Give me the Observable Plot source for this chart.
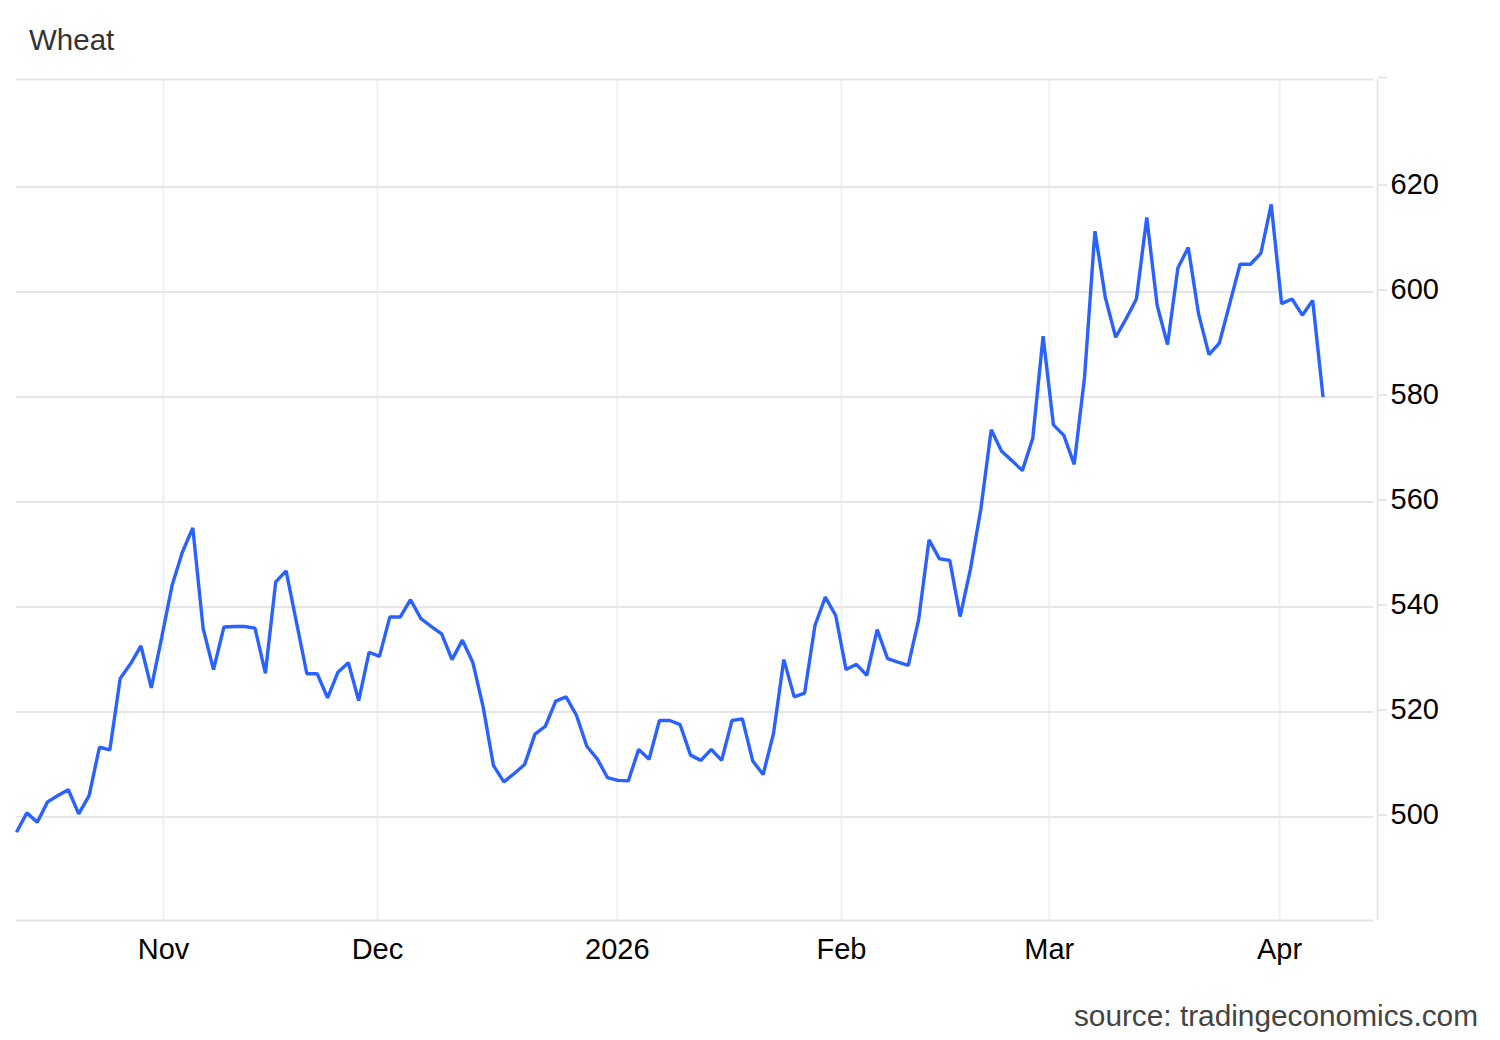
<!DOCTYPE html>
<html>
<head>
<meta charset="utf-8">
<script src="https://cdn.jsdelivr.net/npm/d3@7"></script>
<script src="https://cdn.jsdelivr.net/npm/@observablehq/plot@0.6"></script>
<style>
  html, body { margin: 0; padding: 0; background: #fff; }
  body { width: 1500px; font-family: "Liberation Sans", Arial, sans-serif; }
  #title { height: 70px; box-sizing: border-box; padding: 10px 0 0 29px; font-size: 29.5px; line-height: 60px; color: #333; }
  #chart svg { display: block; }
  #source { box-sizing: border-box; padding: 26px 22px 0 0; font-size: 29.8px; line-height: 40px; color: #444; text-align: right; }
</style>
</head>
<body>
<div id="title">Wheat</div>
<div id="chart"></div>
<div id="source">source: tradingeconomics.com</div>
<script>
// Daily wheat price (USd/Bu), equally spaced trading sessions, Oct 2025 – Apr 2026
const prices = [
  497.1, 500.8, 499.0, 502.9, 504.1, 505.2, 500.6, 504.1, 513.3, 512.8,
  526.4, 529.2, 532.6, 524.6, 534.2, 544.1, 550.5, 555.1, 535.9, 528.1,
  536.2, 536.3, 536.3, 536.0, 527.4, 544.8, 546.9, 537.1, 527.3, 527.3,
  522.7, 527.6, 529.4, 522.2, 531.4, 530.6, 538.1, 538.1, 541.4, 537.8,
  536.3, 534.9, 530.0, 533.7, 529.5, 521.0, 509.8, 506.7, 508.3, 510.0,
  515.8, 517.3, 522.1, 522.9, 519.4, 513.5, 511.1, 507.5, 507.0, 506.9,
  512.9, 511.0, 518.4, 518.4, 517.6, 511.8, 510.8, 512.9, 510.8, 518.4,
  518.7, 510.7, 508.1, 515.9, 530.0, 522.9, 523.6, 536.5, 541.9, 538.4,
  528.1, 529.1, 527.0, 535.7, 530.2, 529.5, 528.9, 537.6, 552.8, 549.2,
  548.9, 538.2, 547.3, 558.7, 573.8, 569.7, 567.9, 566.0, 572.1, 591.6,
  574.7, 572.7, 567.2, 583.8, 611.6, 599.0, 591.4, 594.9, 598.7, 614.2,
  597.5, 590.0, 604.6, 608.5, 595.8, 588.1, 590.3, 597.8, 605.3, 605.3,
  607.4, 616.7, 597.8, 598.7, 595.6, 598.4, 580.0
];
// month boundaries on the session axis
const monthTickPos = [14.18, 34.81, 57.94, 79.56, 99.6, 121.8];
const monthTickLabels = ["Nov", "Dec", "2026", "Feb", "Mar", "Apr"];
const yTicks = [500, 520, 540, 560, 580, 600, 620];
const xDomain = [0, 131.25];
const yDomain = [480.3, 640.5];

const data = prices.map((v, i) => ({i, v}));
const gridRight = 130.9;

const chart = Plot.plot({
  width: 1500,
  height: 900,
  marginTop: 9,
  marginBottom: 50,
  marginLeft: 16,
  marginRight: 123,
  style: {fontFamily: '"Liberation Sans", Arial, sans-serif', fontSize: "29px", background: "#fff"},
  x: {type: "linear", domain: xDomain},
  y: {domain: yDomain},
  marks: [
    Plot.ruleX(monthTickPos, {stroke: "#edf0f4", strokeWidth: 2}),
    Plot.ruleY(yTicks, {x1: 0, x2: gridRight, stroke: "#e6e6e6", strokeWidth: 2}),
    Plot.ruleY([yDomain[1]], {x1: 0, x2: gridRight, stroke: "#e6e6e6", strokeWidth: 2}),
    Plot.ruleY([yDomain[0]], {x1: 0, x2: gridRight, stroke: "#e3e3e3", strokeWidth: 2}),
    Plot.ruleX([xDomain[1]], {stroke: "#e6e6e6", strokeWidth: 2}),
    Plot.axisY([...yTicks, yDomain[1]], {anchor: "right", tickSize: 9, tickPadding: 4, stroke: "#e6e6e6", strokeWidth: 2,
      fill: "#000", fontSize: 29, dy: -2, tickFormat: d => d === yDomain[1] ? "" : String(d), label: null}),
    Plot.axisX(monthTickPos, {anchor: "bottom", tickSize: 0, tickPadding: 18, fill: "#000", fontSize: 29,
      tickFormat: (d, i) => monthTickLabels[monthTickPos.indexOf(d)], label: null}),
    Plot.line(data, {x: "i", y: "v", stroke: "#2962ff", strokeWidth: 3.4, strokeLinejoin: "miter", strokeLinecap: "butt"})
  ]
});
document.getElementById("chart").appendChild(chart);
</script>
</body>
</html>
